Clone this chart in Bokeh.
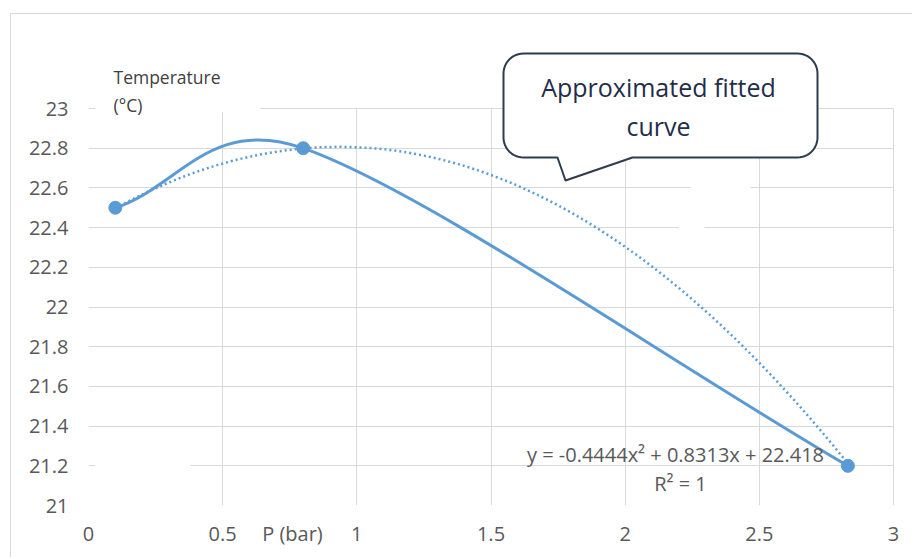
import math
import numpy as np
from bokeh.plotting import figure
from bokeh.models import (Range1d, FixedTicker, CustomJSTickFormatter, Label,
                          BoxAnnotation, PolyAnnotation, ColumnDataSource)
from bokeh.embed import file_html
from bokeh.resources import INLINE

# ---------------- data ----------------
pressure_bar = [0.1, 0.8, 2.83]
temperature_c = [22.5, 22.8, 21.2]
trend_coeffs = [-0.4444, 0.8313, 22.418]          # a*x^2 + b*x + c
x_ticks = [0, 0.5, 1, 1.5, 2, 2.5, 3]
y_ticks = [21, 21.2, 21.4, 21.6, 21.8, 22, 22.2, 22.4, 22.6, 22.8, 23]
equation_text = "y = -0.4444x\u00b2 + 0.8313x + 22.418"
r2_text = "R\u00b2 = 1"
callout_lines = ["Approximated fitted", "curve"]
y_title_lines = ["Temperature", "(\u00b0C)"]
x_title = "P (bar)"
x_title_at = 0.76

# ---------------- layout (page pixels) ----------------
PAGE_W, PAGE_H = 914, 559
OX, OY = 11, 14                      # figure offset inside the chart border
W, H = PAGE_W - OX - 1, PAGE_H - OY - 1
FL, FB = 88, 505                     # frame left / bottom (page px)
XPX = (893 - 88) / 3.0               # px per x unit
YPX = (505 - 108) / 2.0              # px per y unit
BLUE = "#5B9BD5"
GRID = "#D9D9D9"
FONT = "Open Sans"


def px_x(px):
    return (px - FL) / XPX


def px_y(py):
    return 21 + (FB - py) / YPX


p = figure(width=W, height=H,
           x_range=Range1d(px_x(FL), px_x(OX + W)),
           y_range=Range1d(px_y(FB), px_y(OY)),
           output_backend="svg", toolbar_location=None,
           min_border_left=FL - OX, min_border_right=0,
           min_border_top=0, min_border_bottom=OY + H - FB)
p.styles = {"margin-left": "10px", "margin-top": "13px",
            "border-left": "1px solid #D9D9D9", "border-top": "1px solid #D9D9D9"}
p.outline_line_color = None
p.background_fill_color = "white"
p.border_fill_color = "white"

xfmt = CustomJSTickFormatter(
    args=dict(title=x_title, at=x_title_at),
    code="if (Math.abs(tick - at) < 1e-6) { return title; } return String(parseFloat(tick.toFixed(2)));")
yfmt = CustomJSTickFormatter(code="return String(parseFloat(tick.toFixed(2)));")
for ax, ticks, fmt in ((p.xaxis[0], sorted(x_ticks + [x_title_at]), xfmt), (p.yaxis[0], y_ticks, yfmt)):
    ax.ticker = FixedTicker(ticks=ticks)
    ax.formatter = fmt
    ax.axis_line_color = None
    ax.major_tick_line_color = None
    ax.minor_tick_line_color = None
    ax.major_tick_out = 0
    ax.major_tick_in = 0
    ax.major_label_text_font = FONT
    ax.major_label_text_font_size = "20px"
    ax.major_label_text_color = "#595959"
p.xaxis.major_label_standoff = 14
p.yaxis.major_label_standoff = 20

# gridlines limited to the data area
p.xgrid.ticker = FixedTicker(ticks=x_ticks)
p.ygrid.ticker = FixedTicker(ticks=y_ticks)
p.xgrid.cross_bounds = (min(y_ticks), max(y_ticks))
p.ygrid.cross_bounds = (min(x_ticks), max(x_ticks))
p.xgrid.grid_line_color = GRID
p.ygrid.grid_line_color = GRID

# white patches that interrupt some gridlines in the original
for (l, r, t, b) in [(95, 260, 60, 112), (95, 190, 312, 318), (95, 190, 462, 468),
                     (690, 750, 185, 191), (678, 704, 224, 230)]:
    p.add_layout(BoxAnnotation(left=px_x(l), right=px_x(r), top=px_y(t), bottom=px_y(b),
                               fill_color="white", fill_alpha=1, line_color=None))

# trendline (polynomial shown in the equation)
tx = np.linspace(min(pressure_bar), max(pressure_bar), 300)
ty = np.polyval(trend_coeffs, tx)
p.line(tx, ty, line_color=BLUE, line_width=2.5, line_dash="2 3")

# smoothed line (Excel-style Bezier spline through the points: reflected end
# points, tangent handles of 1/6, capped at half the segment length on screen)
pts = list(zip(pressure_bar, temperature_c))
n = len(pts)
ext = ([(2 * pts[0][0] - pts[1][0], 2 * pts[0][1] - pts[1][1])] + pts +
       [(2 * pts[-1][0] - pts[-2][0], 2 * pts[-1][1] - pts[-2][1])])


def screen_len(dx, dy):
    return math.hypot(dx * XPX, dy * YPX)


def handle(vx, vy, seg_len):
    L = screen_len(vx, vy)
    cap = seg_len / 2.0
    if L > cap and L > 0:
        s = cap / L
        return vx * s, vy * s
    return vx, vy


seg = dict(x0=[], y0=[], x1=[], y1=[], cx0=[], cy0=[], cx1=[], cy1=[])
for i in range(n - 1):
    pm, p0, p1, p2 = ext[i], ext[i + 1], ext[i + 2], ext[i + 3]
    d = screen_len(p1[0] - p0[0], p1[1] - p0[1])
    hx0, hy0 = handle((p1[0] - pm[0]) / 6, (p1[1] - pm[1]) / 6, d)
    hx1, hy1 = handle((p2[0] - p0[0]) / 6, (p2[1] - p0[1]) / 6, d)
    seg["x0"].append(p0[0]); seg["y0"].append(p0[1])
    seg["x1"].append(p1[0]); seg["y1"].append(p1[1])
    seg["cx0"].append(p0[0] + hx0); seg["cy0"].append(p0[1] + hy0)
    seg["cx1"].append(p1[0] - hx1); seg["cy1"].append(p1[1] - hy1)
p.bezier(x0="x0", y0="y0", x1="x1", y1="y1", cx0="cx0", cy0="cy0", cx1="cx1", cy1="cy1",
         source=ColumnDataSource(seg), line_color=BLUE, line_width=3)

p.scatter(pressure_bar, temperature_c, size=13, fill_color=BLUE, line_color=BLUE)

# y axis title
for txt, cy in zip(y_title_lines, (76, 104)):
    p.add_layout(Label(x=px_x(113), y=px_y(cy), text=txt, text_font=FONT, text_font_size="17.5px",
                       text_color="#404040", text_baseline="middle", text_align="left"))

# trendline equation
p.add_layout(Label(x=px_x(675), y=px_y(454), text=equation_text, text_font=FONT,
                   text_font_size="20px", text_color="#595959",
                   text_baseline="middle", text_align="center"))
p.add_layout(Label(x=px_x(680), y=px_y(483), text=r2_text, text_font=FONT,
                   text_font_size="20px", text_color="#595959",
                   text_baseline="middle", text_align="center"))

# callout shape
L, R, T, B, rad = 503, 817, 53, 157, 20
path = []


def arc(cx, cy, a0, a1, steps=12):
    for k in range(steps + 1):
        a = math.radians(a0 + (a1 - a0) * k / steps)
        path.append((cx + rad * math.cos(a), cy + rad * math.sin(a)))


arc(R - rad, T + rad, -90, 0)
arc(R - rad, B - rad, 0, 90)
path += [(632, B), (565, 180), (557, B)]
arc(L + rad, B - rad, 90, 180)
arc(L + rad, T + rad, 180, 270)
p.add_layout(PolyAnnotation(xs=[px_x(a) for a, _ in path], ys=[px_y(b) for _, b in path],
                            fill_color="white", fill_alpha=1,
                            line_color="#2F3B4F", line_alpha=1, line_width=2))
for txt, cy in zip(callout_lines, (86, 125)):
    p.add_layout(Label(x=px_x(658), y=px_y(cy), text=txt, text_font=FONT, text_font_size="25px",
                       text_color="#1F2D4A", text_baseline="middle", text_align="center"))

open("out.html", "w").write(file_html(p, INLINE))
